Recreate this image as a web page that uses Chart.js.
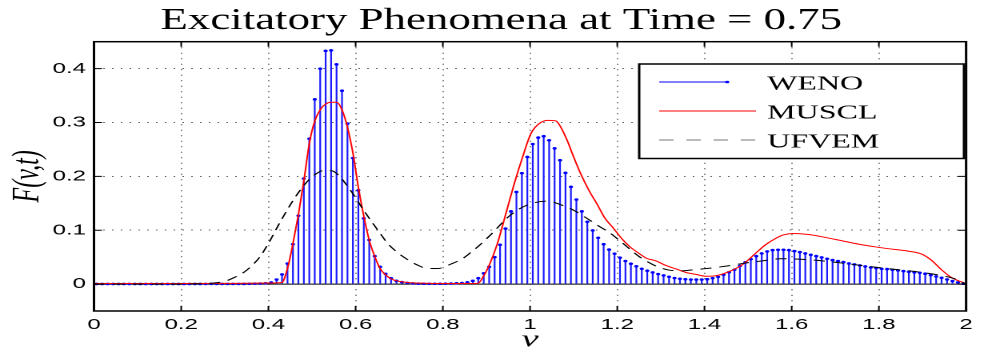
<!DOCTYPE html>
<html>
<head>
<meta charset="utf-8">
<script src="https://cdn.jsdelivr.net/npm/chart.js@4.4.1/dist/chart.umd.min.js"></script>
<style>
  html, body { margin: 0; padding: 0; background: #fff; overflow: hidden; }
  /* the original figure was exported narrow and stretched sideways, so do the same */
  #stretch { width: 613px; height: 347px; transform: scaleX(1.6); transform-origin: 0 0; }
</style>
</head>
<body>
<div id="stretch"><canvas id="myChart"></canvas></div>
<script>
let title_text = 'Excitatory Phenomena at Time = 0.75';
let series_names = ['WENO', 'MUSCL', 'UFVEM'];

let x_ticks = [0, 0.2, 0.4, 0.6, 0.8, 1, 1.2, 1.4, 1.6, 1.8, 2];
let x_tick_labels = ['0', '0.2', '0.4', '0.6', '0.8', '1', '1.2', '1.4', '1.6', '1.8', '2'];
let y_ticks = [0, 0.1, 0.2, 0.3, 0.4];
let y_tick_labels = ['0', '0.1', '0.2', '0.3', '0.4'];

// WENO: one value per cell, 160 cells of width 0.0125, plotted at cell centres
let cell_width = 0.0125;
let weno_F = [
  0.0002, 0.0002, 0.0002, 0.0002, 0.0002, 0.0002, 0.0002, 0.0002, 0.0002, 0.0002,
  0.0002, 0.0002, 0.0002, 0.0002, 0.0002, 0.0002, 0.0002, 0.0002, 0.0002, 0.0002,
  0.0003, 0.0003, 0.0003, 0.0003, 0.0003, 0.0003, 0.0003, 0.0003, 0.0005, 0.0008,
  0.001, 0.0015, 0.003, 0.0085, 0.018, 0.038, 0.074, 0.127, 0.196, 0.270,
  0.343, 0.400, 0.433, 0.434, 0.408, 0.359, 0.298, 0.234, 0.174, 0.122,
  0.082, 0.052, 0.032, 0.019, 0.011, 0.006, 0.0037, 0.0022, 0.0012, 0.0008,
  0.0006, 0.0005, 0.0005, 0.0006, 0.0008, 0.001, 0.0015, 0.002, 0.0032, 0.006,
  0.011, 0.020, 0.032, 0.050, 0.073, 0.103, 0.135, 0.171, 0.206, 0.236,
  0.260, 0.272, 0.2745, 0.267, 0.252, 0.230, 0.2065, 0.1805, 0.157, 0.135,
  0.1156, 0.0996, 0.086, 0.074, 0.064, 0.0565, 0.049, 0.0428, 0.0378, 0.033,
  0.0284, 0.0248, 0.0217, 0.0186, 0.0161, 0.0135, 0.0112, 0.0098, 0.009, 0.0085,
  0.0084, 0.0084, 0.009, 0.011, 0.0133, 0.0173, 0.022, 0.0268, 0.0338, 0.0405,
  0.0462, 0.052, 0.057, 0.0606, 0.0631, 0.0637, 0.0637, 0.0631, 0.0612, 0.0594,
  0.0569, 0.0544, 0.052, 0.0495, 0.047, 0.0445, 0.0427, 0.0408, 0.0383, 0.0365,
  0.0346, 0.0328, 0.0309, 0.0297, 0.0284, 0.0278, 0.0266, 0.0254, 0.0241, 0.0229,
  0.0216, 0.021, 0.0192, 0.0167, 0.0142, 0.0117, 0.0087, 0.0056, 0.0031, 0.0006
];

let muscl_v = [
  0, 0.1, 0.2, 0.3, 0.4, 0.431, 0.444, 0.456, 0.469, 0.481,
  0.494, 0.506, 0.519, 0.531, 0.544, 0.556, 0.569, 0.581, 0.594, 0.606,
  0.619, 0.631, 0.644, 0.656, 0.669, 0.681, 0.694, 0.72, 0.76, 0.8,
  0.85, 0.88, 0.895, 0.909, 0.925, 0.946, 0.964, 0.983, 1.002, 1.021,
  1.04, 1.059, 1.07, 1.085, 1.1, 1.116, 1.135, 1.154, 1.172, 1.191,
  1.21, 1.229, 1.248, 1.267, 1.289, 1.31, 1.335, 1.36, 1.38, 1.403,
  1.426, 1.456, 1.487, 1.517, 1.54, 1.563, 1.58, 1.603, 1.639, 1.677,
  1.715, 1.753, 1.791, 1.829, 1.867, 1.898, 1.92, 1.943, 1.966, 2
];
let muscl_F = [
  0.001, 0.001, 0.001, 0.0012, 0.002, 0.003, 0.03, 0.074, 0.13, 0.19,
  0.262, 0.302, 0.324, 0.334, 0.3375, 0.3375, 0.323, 0.292, 0.2425, 0.181,
  0.125, 0.082, 0.051, 0.029, 0.017, 0.0099, 0.006, 0.003, 0.0015, 0.001,
  0.001, 0.0012, 0.017, 0.04, 0.075, 0.135, 0.187, 0.236, 0.2795, 0.298,
  0.304, 0.303, 0.292, 0.267, 0.236, 0.205, 0.174, 0.148, 0.122, 0.104,
  0.0847, 0.0693, 0.058, 0.048, 0.043, 0.035, 0.028, 0.021, 0.018, 0.0145,
  0.0155, 0.023, 0.036, 0.057, 0.073, 0.0847, 0.091, 0.094, 0.092, 0.0866,
  0.0804, 0.0742, 0.0692, 0.065, 0.0612, 0.0557, 0.0445, 0.027, 0.0124, 0.0005
];

let ufvem_v = [
  0, 0.1, 0.2, 0.25, 0.28, 0.3, 0.317, 0.344, 0.363, 0.38,
  0.4, 0.431, 0.469, 0.5, 0.531, 0.552, 0.583, 0.621, 0.659, 0.674,
  0.697, 0.72, 0.74, 0.765, 0.79, 0.818, 0.846, 0.866, 0.884, 0.909,
  0.955, 0.993, 1.04, 1.062, 1.1, 1.138, 1.155, 1.183, 1.214, 1.252,
  1.29, 1.318, 1.345, 1.38, 1.418, 1.456, 1.494, 1.532, 1.575, 1.645,
  1.715, 1.78, 1.845, 1.895, 1.96, 1.98, 2
];
let ufvem_F = [
  0, 0, 0, 0.0008, 0.0025, 0.005, 0.0105, 0.022, 0.035, 0.05,
  0.0755, 0.121, 0.17, 0.199, 0.2115, 0.208, 0.18, 0.134, 0.091, 0.075,
  0.058, 0.045, 0.036, 0.029, 0.029, 0.037, 0.0476, 0.06, 0.072, 0.091,
  0.128, 0.1466, 0.154, 0.1497, 0.137, 0.118, 0.109, 0.095, 0.075, 0.05,
  0.033, 0.026, 0.0245, 0.027, 0.03, 0.034, 0.039, 0.043, 0.047, 0.045,
  0.039, 0.0325, 0.0266, 0.022, 0.013, 0.008, 0
];

let weno_points = weno_F.map((F, i) => ({x: (i + 0.5) * cell_width, y: F}));
let muscl_points = muscl_v.map((v, i) => ({x: v, y: muscl_F[i]}));
let ufvem_points = ufvem_v.map((v, i) => ({x: v, y: ufvem_F[i]}));

function draw_title(ctx, chart) {
  let a = chart.chartArea;
  ctx.save();
  ctx.font = '31px "Liberation Serif"';
  ctx.fillStyle = '#000';
  ctx.textAlign = 'center';
  ctx.textBaseline = 'alphabetic';
  let w = ctx.measureText(title_text).width;
  ctx.translate(a.left + (a.right - a.left) * 0.467, 29);
  ctx.scale(426 / w, 1);
  ctx.fillText(title_text, 0, 0);
  ctx.restore();
}

function draw_legend(ctx, chart) {
  let sets = chart.data.datasets;
  let left = 399.5, top = 64, right = 602.5, bottom = 158.5;
  let rows = [82, 111, 140];
  ctx.save();
  ctx.fillStyle = '#fff';
  ctx.fillRect(left, top, right - left, bottom - top);
  ctx.strokeStyle = '#000';
  ctx.lineWidth = 1.5;
  ctx.strokeRect(left, top, right - left, bottom - top);

  // WENO: line with the marker at its end, like a stem
  ctx.lineWidth = 1;
  ctx.strokeStyle = sets[2].pointBackgroundColor;
  ctx.beginPath(); ctx.moveTo(412, rows[0]); ctx.lineTo(454.5, rows[0]); ctx.stroke();
  ctx.fillStyle = sets[2].pointBackgroundColor;
  ctx.beginPath(); ctx.arc(454.5, rows[0], sets[2].pointRadius, 0, Math.PI * 2); ctx.fill();

  ctx.strokeStyle = sets[1].borderColor;
  ctx.beginPath(); ctx.moveTo(412, rows[1]); ctx.lineTo(472.5, rows[1]); ctx.stroke();

  ctx.strokeStyle = '#777';
  ctx.setLineDash([9, 8]);
  ctx.beginPath(); ctx.moveTo(412, rows[2]); ctx.lineTo(472.5, rows[2]); ctx.stroke();
  ctx.setLineDash([]);

  ctx.fillStyle = '#000';
  ctx.font = '20px "Liberation Serif"';
  ctx.textBaseline = 'alphabetic';
  ctx.textAlign = 'left';
  series_names.forEach((name, i) => {
    ctx.fillText(name, 479.5, rows[i] + 7.5);
  });
  ctx.restore();
}

let matlab_axes = {
  id: 'matlab_axes',
  beforeDatasetsDraw(chart) {
    // stem baseline at F = 0
    let {ctx, chartArea: a, scales} = chart;
    let y0 = scales.y.getPixelForValue(0);
    ctx.save();
    ctx.strokeStyle = '#000';
    ctx.lineWidth = 1;
    ctx.beginPath(); ctx.moveTo(a.left, y0); ctx.lineTo(a.right, y0); ctx.stroke();
    ctx.restore();
  },
  afterDraw(chart) {
    let {ctx, chartArea: a, scales} = chart;
    ctx.save();
    ctx.strokeStyle = '#000';
    ctx.lineWidth = 1;
    ctx.beginPath();
    x_ticks.forEach(v => {
      let px = scales.x.getPixelForValue(v);
      ctx.moveTo(px, a.bottom); ctx.lineTo(px, a.bottom - 5);
      ctx.moveTo(px, a.top); ctx.lineTo(px, a.top + 5);
    });
    y_ticks.forEach(v => {
      let py = scales.y.getPixelForValue(v);
      ctx.moveTo(a.left, py); ctx.lineTo(a.left + 5, py);
      ctx.moveTo(a.right, py); ctx.lineTo(a.right - 5, py);
    });
    ctx.stroke();
    ctx.lineWidth = 1.5;
    ctx.strokeRect(a.left, a.top, a.right - a.left, a.bottom - a.top);
    ctx.restore();
    draw_legend(ctx, chart);
    draw_title(ctx, chart);
  }
};

let tick_font = {family: '"Liberation Sans", Arial, sans-serif', size: 15};
let label_font = {family: '"Liberation Serif", serif', size: 24, style: 'italic', lineHeight: 0.8};

let settings = {
  type: 'line',
  data: {
    datasets: [
      {
        label: 'UFVEM',
        data: ufvem_points,
        borderColor: '#000000',
        borderWidth: 1,
        borderDash: [7, 5],
        pointRadius: 0,
        cubicInterpolationMode: 'monotone',
        order: 0
      },
      {
        label: 'MUSCL',
        data: muscl_points,
        borderColor: '#ff0000',
        borderWidth: 1,
        pointRadius: 0,
        cubicInterpolationMode: 'monotone',
        order: 1
      },
      {
        label: 'WENO',
        data: weno_points,
        showLine: false,
        pointRadius: 1.3,
        pointBorderWidth: 0,
        pointBackgroundColor: '#0000ff',
        order: 2
      },
      {
        type: 'bar',
        label: 'WENO stems',
        data: weno_points,
        backgroundColor: '#1a1aff',
        borderWidth: 0,
        barThickness: 1.1,
        inflateAmount: 0,
        grouped: false,
        order: 3
      }
    ]
  },
  options: {
    responsive: true,
    maintainAspectRatio: false,
    devicePixelRatio: 2,
    animation: false,
    layout: {
      padding: {top: 41.7, right: 5.5, left: 0, bottom: 0}
    },
    plugins: {
      legend: {display: false},
      title: {display: false},
      tooltip: {enabled: false}
    },
    scales: {
      x: {
        type: 'linear',
        min: 0,
        max: 2,
        offset: false,
        afterBuildTicks: s => { s.ticks = x_ticks.map(v => ({value: v})); },
        afterFit: s => { s.height = 36; },
        ticks: {
          autoSkip: false,
          maxRotation: 0,
          padding: 5,
          color: '#000',
          font: tick_font,
          callback: (value, i) => x_tick_labels[i]
        },
        grid: {color: 'rgba(0,0,0,0.6)', lineWidth: 1, drawTicks: false, offset: false},
        border: {display: false, dash: [1, 4.5]},
        title: {display: true, text: 'v', color: '#000', font: label_font, padding: {top: 0, bottom: -3}}
      },
      y: {
        type: 'linear',
        min: -0.05,
        max: 0.45,
        afterBuildTicks: s => { s.ticks = y_ticks.map(v => ({value: v})); },
        afterFit: s => { s.width = 58.75; },
        ticks: {
          padding: 5,
          color: '#000',
          font: tick_font,
          callback: (value, i) => y_tick_labels[i]
        },
        grid: {color: 'rgba(0,0,0,0.6)', lineWidth: 1, drawTicks: false},
        border: {display: false, dash: [1, 4.5]},
        title: {display: true, text: 'F(v,t)', color: '#000', font: label_font, padding: {top: 8, bottom: 0}}
      }
    }
  },
  plugins: [matlab_axes]
};

window.chart = new Chart('myChart', settings);
</script>
</body>
</html>
